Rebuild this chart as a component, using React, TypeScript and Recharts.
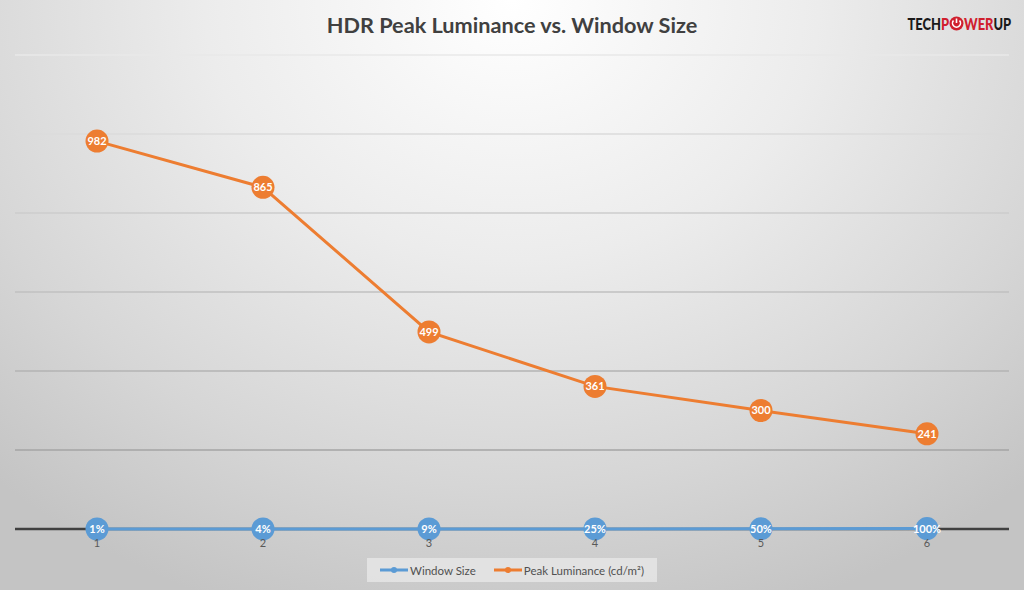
import { CartesianGrid, LabelList, Line, LineChart, XAxis, YAxis } from "recharts";

const positions = ["1", "2", "3", "4", "5", "6"];
const windowSize = [0.01, 0.04, 0.09, 0.25, 0.5, 1];
const windowLabels = ["1%", "4%", "9%", "25%", "50%", "100%"];
const peakLuminance = [982, 865, 499, 361, 300, 241];
const yTicks = [0, 200, 400, 600, 800, 1000, 1200];

const BLUE = "#5b9bd5";
const ORANGE = "#ed7d31";
const FONT = "Lato, 'Open Sans', sans-serif";

const data = positions.map((p, i) => ({
  pos: p,
  size: windowSize[i],
  sizeLabel: windowLabels[i],
  peak: peakLuminance[i],
}));

// gridlines fade out toward the bright top of the picture; the zero line is the dark axis
function GridLine(props: any) {
  const { x1, x2, y1, y, height } = props;
  const isAxis = Math.abs(y1 - (y + height)) < 1;
  const t = Math.min(1, Math.max(0, (y1 - y) / height));
  const g = Math.round(232 - 80 * t);
  return (
    <line
      x1={x1}
      x2={x2}
      y1={y1}
      y2={y1}
      stroke={isAxis ? "#404040" : `rgb(${g},${g},${g})`}
      strokeWidth={isAxis ? 2.5 : 1.4}
    />
  );
}

function Logo() {
  const red = "#d0202e";
  const k = 0.76;
  const txt = { fontFamily: FONT, fontWeight: 900, fontSize: 17, y: 22 };
  return (
    <svg width={124} height={30} style={{ position: "absolute", left: 896, top: 8 }}>
      <g transform={`scale(${k},1)`}>
        <text {...txt} x={53 / k} textAnchor="end" fill="#1a1a1a">
          TECH<tspan fill={red}>P</tspan>
        </text>
        <text {...txt} x={68 / k} fill={red}>
          WER<tspan fill="#1a1a1a">UP</tspan>
        </text>
      </g>
      <circle cx={60.5} cy={15.5} r={7} fill={red} />
      <path d="M57.5 12.5 A4 4 0 1 0 63.5 12.5" stroke="#fff" strokeWidth={1.6} fill="none" />
      <line x1={60.5} y1={10.5} x2={60.5} y2={15} stroke="#fff" strokeWidth={1.6} />
    </svg>
  );
}

function LegendBox() {
  const item = (color: string, label: string) => (
    <span style={{ display: "inline-flex", alignItems: "center", gap: 2 }}>
      <svg width={28} height={10}>
        <line x1={0} y1={5} x2={28} y2={5} stroke={color} strokeWidth={3} />
        <circle cx={14} cy={5} r={3} fill={color} />
      </svg>
      {label}
    </span>
  );
  return (
    <div
      style={{
        position: "absolute",
        left: 367,
        top: 558,
        width: 290,
        height: 24,
        background: "rgba(235,235,235,0.7)",
        display: "flex",
        alignItems: "center",
        justifyContent: "center",
        gap: 18,
        fontFamily: FONT,
        fontSize: 11.5,
        color: "#505050",
      }}
    >
      {item(BLUE, "Window Size")}
      {item(ORANGE, "Peak Luminance (cd/m²)")}
    </div>
  );
}

export default function App() {
  return (
    <div
      style={{
        position: "absolute",
        left: 0,
        top: 0,
        width: 1024,
        height: 590,
        overflow: "hidden",
        background:
          "radial-gradient(ellipse 75% 110% at 50% 0%, #ffffff 0%, #ececec 40%, #d6d6d6 75%, #c4c4c4 100%)",
      }}
    >
      <div
        style={{
          position: "absolute",
          left: 0,
          top: 12,
          width: 1024,
          textAlign: "center",
          fontFamily: FONT,
          fontWeight: 700,
          fontSize: 21.7,
          color: "#404040",
        }}
      >
        HDR Peak Luminance vs. Window Size
      </div>
      <Logo />
      <LineChart
        width={1024}
        height={590}
        data={data}
        margin={{ top: 55, right: 15, bottom: 31, left: 15 }}
        style={{ position: "absolute", left: 0, top: 0 }}
      >
        <CartesianGrid horizontal={(p: any) => <GridLine {...p} />} vertical={false} />
        <YAxis hide domain={[0, 1200]} ticks={yTicks} />
        <XAxis
          dataKey="pos"
          height={30}
          padding={{ left: 82, right: 82 }}
          tickLine={false}
          axisLine={false}
          tick={{ fill: "#595959", fontSize: 11, fontFamily: FONT }}
          tickMargin={4}
        />
        <Line
          dataKey="size"
          stroke={BLUE}
          strokeWidth={3}
          dot={{ r: 11.5, fill: BLUE, stroke: BLUE, strokeWidth: 0 }}
          activeDot={false}
          isAnimationActive={false}
        >
          <LabelList
            dataKey="sizeLabel"
            position="center"
            fill="#fff"
            fontSize={11}
            fontWeight={700}
            fontFamily={FONT}
          />
        </Line>
        <Line
          dataKey="peak"
          stroke={ORANGE}
          strokeWidth={3}
          dot={{ r: 11.5, fill: ORANGE, stroke: ORANGE, strokeWidth: 0 }}
          activeDot={false}
          isAnimationActive={false}
        >
          <LabelList
            dataKey="peak"
            position="center"
            fill="#fff"
            fontSize={11}
            fontWeight={700}
            fontFamily={FONT}
          />
        </Line>
      </LineChart>
      <LegendBox />
    </div>
  );
}
